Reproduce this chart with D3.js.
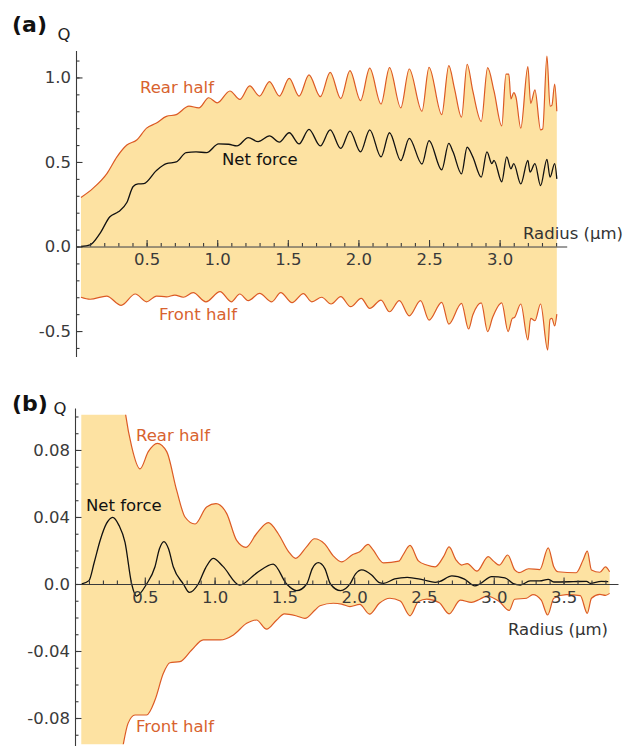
<!DOCTYPE html>
<html>
<head>
<meta charset="utf-8">
<script src="https://cdn.jsdelivr.net/npm/d3@7"></script>
<style>
  body { margin: 0; background: #fff; }
  svg { display: block; font-family: "DejaVu Sans", sans-serif; }
  .axis path, .axis line { stroke: #3a3a3a; stroke-width: 1.1; }
  .axis text { fill: #3a3a3a; font-size: 16.5px; font-family: "DejaVu Sans", sans-serif; }
  .lbl { font-size: 16.5px; }
</style>
</head>
<body>
<div id="chart"></div>
<script>
// panel (a): radius (um) vs Q
const rearA = [[0.035,0.29],[0.12,0.344],[0.22,0.433],[0.29,0.53],[0.36,0.60],[0.43,0.63],[0.50,0.70],[0.57,0.73],[0.64,0.77],[0.71,0.78],[0.80,0.83],[0.87,0.82],[0.94,0.88],[1.00,0.85],[1.09,0.92],[1.16,0.87],[1.23,0.95],[1.30,0.89],[1.37,0.975],[1.44,0.89],[1.51,0.995],[1.58,0.89],[1.65,1.015],[1.73,0.886],[1.80,1.03],[1.875,0.875],[1.94,1.04],[2.015,0.863],[2.08,1.055],[2.16,0.843],[2.22,1.058],[2.30,0.82],[2.36,1.05],[2.45,0.80],[2.50,1.06],[2.59,0.78],[2.64,1.07],[2.68,0.936],[2.73,0.765],[2.77,1.078],[2.81,0.92],[2.87,0.74],[2.915,1.058],[2.96,0.92],[3.015,0.713],[3.045,1.02],[3.065,1.02],[3.08,0.873],[3.10,0.91],[3.115,0.886],[3.15,0.70],[3.20,1.064],[3.22,0.847],[3.25,0.926],[3.29,0.69],[3.305,0.695],[3.335,1.127],[3.357,0.83],[3.37,0.835],[3.39,0.96],[3.405,0.80]];
const netA = [[0.035,0],[0.1,0.01],[0.17,0.078],[0.24,0.176],[0.30,0.205],[0.36,0.26],[0.405,0.355],[0.44,0.37],[0.48,0.372],[0.57,0.45],[0.64,0.49],[0.71,0.50],[0.78,0.555],[0.85,0.56],[0.925,0.555],[1.01,0.607],[1.08,0.605],[1.14,0.595],[1.22,0.644],[1.29,0.62],[1.37,0.654],[1.44,0.617],[1.51,0.673],[1.58,0.607],[1.65,0.693],[1.73,0.595],[1.80,0.69],[1.875,0.58],[1.94,0.683],[2.015,0.56],[2.08,0.69],[2.16,0.53],[2.22,0.673],[2.30,0.508],[2.36,0.64],[2.45,0.488],[2.50,0.626],[2.59,0.453],[2.64,0.61],[2.67,0.56],[2.73,0.43],[2.77,0.587],[2.81,0.53],[2.87,0.41],[2.91,0.56],[2.945,0.49],[2.96,0.51],[3.015,0.383],[3.05,0.53],[3.08,0.46],[3.10,0.49],[3.15,0.37],[3.20,0.51],[3.215,0.44],[3.25,0.49],[3.29,0.36],[3.335,0.516],[3.357,0.41],[3.39,0.49],[3.405,0.40]];
const frontA = [[0.035,-0.30],[0.10,-0.312],[0.217,-0.293],[0.32,-0.348],[0.42,-0.281],[0.50,-0.327],[0.57,-0.293],[0.64,-0.298],[0.70,-0.287],[0.76,-0.30],[0.83,-0.273],[0.92,-0.327],[1.02,-0.267],[1.10,-0.327],[1.16,-0.281],[1.22,-0.32],[1.30,-0.277],[1.386,-0.327],[1.45,-0.273],[1.53,-0.332],[1.61,-0.279],[1.67,-0.327],[1.74,-0.30],[1.806,-0.34],[1.875,-0.297],[1.945,-0.356],[2.02,-0.307],[2.08,-0.366],[2.16,-0.317],[2.22,-0.386],[2.29,-0.32],[2.36,-0.41],[2.44,-0.32],[2.50,-0.435],[2.59,-0.33],[2.64,-0.459],[2.73,-0.336],[2.78,-0.488],[2.81,-0.405],[2.87,-0.333],[2.915,-0.504],[2.95,-0.42],[3.015,-0.333],[3.06,-0.504],[3.09,-0.425],[3.105,-0.42],[3.15,-0.34],[3.20,-0.553],[3.22,-0.425],[3.25,-0.439],[3.29,-0.34],[3.34,-0.612],[3.357,-0.431],[3.37,-0.425],[3.39,-0.47],[3.405,-0.40]];

// panel (b)
const rearB = [[0.045,0.5],[0.2,0.25],[0.30,0.15],[0.363,0.101],[0.406,0.082],[0.466,0.0687],[0.525,0.079],[0.59,0.084],[0.657,0.079],[0.728,0.056],[0.788,0.040],[0.86,0.0358],[0.943,0.046],[1.01,0.048],[1.087,0.042],[1.158,0.026],[1.225,0.0219],[1.30,0.030],[1.385,0.0366],[1.456,0.030],[1.53,0.0193],[1.58,0.0153],[1.66,0.0223],[1.715,0.027],[1.79,0.0238],[1.85,0.0168],[1.91,0.0132],[1.99,0.0176],[2.04,0.0193],[2.10,0.0236],[2.13,0.021],[2.21,0.0126],[2.32,0.0136],[2.35,0.0173],[2.40,0.023],[2.46,0.0138],[2.52,0.0113],[2.58,0.0102],[2.64,0.0163],[2.68,0.0221],[2.73,0.0143],[2.77,0.0113],[2.81,0.0122],[2.88,0.0077],[2.96,0.0163],[3.00,0.0135],[3.04,0.0113],[3.10,0.0173],[3.15,0.0084],[3.18,0.0068],[3.25,0.0091],[3.33,0.0086],[3.39,0.0216],[3.43,0.0103],[3.46,0.0073],[3.59,0.0067],[3.64,0.0143],[3.67,0.0196],[3.70,0.0084],[3.76,0.007],[3.80,0.0102],[3.83,0.0073]];
const netB = [[0.048,0],[0.10,0.002],[0.138,0.013],[0.18,0.026],[0.225,0.036],[0.27,0.0398],[0.315,0.035],[0.358,0.025],[0.406,0],[0.44,-0.0072],[0.513,0],[0.573,0.0103],[0.605,0.021],[0.637,0.0253],[0.67,0.021],[0.704,0.0103],[0.776,0],[0.819,-0.005],[0.883,0],[0.935,0.0095],[0.99,0.0153],[1.06,0.0105],[1.18,-0.0007],[1.30,0.0065],[1.42,0.0119],[1.516,0],[1.588,-0.004],[1.66,0],[1.70,0.0092],[1.743,0.0127],[1.79,0.0092],[1.83,0],[1.903,-0.004],[1.97,0],[2.01,0.006],[2.054,0.0084],[2.125,0.0054],[2.18,0.0008],[2.21,0.0004],[2.29,0.003],[2.38,0.004],[2.495,0.0024],[2.58,0.001],[2.61,0.0014],[2.70,0.0048],[2.79,0.0029],[2.865,-0.0011],[2.90,0],[2.985,0.0044],[3.08,0.0037],[3.14,0.0002],[3.19,-0.0006],[3.26,0.0018],[3.33,0.0018],[3.39,0.0028],[3.43,0.0012],[3.57,0.0014],[3.665,0.0016],[3.69,0.0004],[3.77,0.0016],[3.82,0.0014]];
const frontB = [[0.045,-0.4],[0.25,-0.16],[0.346,-0.0957],[0.38,-0.0832],[0.43,-0.0782],[0.513,-0.0782],[0.573,-0.0693],[0.633,-0.0533],[0.68,-0.047],[0.752,-0.0464],[0.836,-0.0394],[0.919,-0.0334],[1.04,-0.0334],[1.135,-0.0304],[1.23,-0.0235],[1.30,-0.0215],[1.373,-0.027],[1.445,-0.0215],[1.50,-0.0179],[1.588,-0.0191],[1.647,-0.0205],[1.72,-0.0155],[1.755,-0.013],[1.85,-0.0115],[1.91,-0.012],[1.97,-0.0135],[2.04,-0.0122],[2.11,-0.018],[2.18,-0.0115],[2.256,-0.0085],[2.33,-0.0102],[2.40,-0.019],[2.46,-0.0105],[2.52,-0.009],[2.61,-0.0112],[2.68,-0.0178],[2.76,-0.0096],[2.84,-0.011],[2.90,-0.0091],[2.95,-0.0072],[3.04,-0.0105],[3.11,-0.0158],[3.15,-0.0091],[3.235,-0.0085],[3.28,-0.0063],[3.34,-0.0096],[3.386,-0.0185],[3.43,-0.0085],[3.52,-0.0064],[3.62,-0.007],[3.67,-0.0175],[3.70,-0.0085],[3.76,-0.0062],[3.80,-0.0068],[3.83,-0.0056]];

const xTicksA = [0.5, 1.0, 1.5, 2.0, 2.5, 3.0];
const yTicksA = [-0.5, 0.0, 0.5, 1.0];
const xTicksB = [0.5, 1.0, 1.5, 2.0, 2.5, 3.0, 3.5];
const yTicksB = [-0.08, -0.04, 0.0, 0.04, 0.08];

const width = 636, height = 746;
const fillColor = "#fde2a2", orange = "#dc5a24", textOrange = "#d8632f";

const svg = d3.select("#chart").append("svg")
    .attr("width", width)
    .attr("height", height);

function range(a, b, step) {
    const out = [];
    for (let v = a; v <= b + 1e-9; v += step) out.push(+v.toFixed(4));
    return out;
}

function panel(opt) {
    const x = d3.scaleLinear().domain(opt.xDomain).range(opt.xRange);
    const y = d3.scaleLinear().domain(opt.yDomain).range(opt.yRange);
    const g = svg.append("g");

    const clipId = "clip-" + opt.name;
    svg.append("clipPath").attr("id", clipId)
        .append("rect")
        .attr("x", x(0)).attr("width", x(opt.xDomain[1]) - x(0))
        .attr("y", y(opt.clip[1])).attr("height", y(opt.clip[0]) - y(opt.clip[1]));

    const plot = g.append("g").attr("clip-path", `url(#${clipId})`);

    const area = d3.area()
        .x(d => x(d[0])).y0(y(0)).y1(d => y(d[1]))
        .curve(d3.curveMonotoneX);
    const line = d3.line()
        .x(d => x(d[0])).y(d => y(d[1]))
        .curve(d3.curveMonotoneX);

    plot.append("path").datum(opt.rear).attr("d", area).attr("fill", fillColor);
    plot.append("path").datum(opt.front).attr("d", area).attr("fill", fillColor);
    plot.append("path").datum(opt.rear).attr("d", line)
        .attr("fill", "none").attr("stroke", orange).attr("stroke-width", 1.2);
    plot.append("path").datum(opt.front).attr("d", line)
        .attr("fill", "none").attr("stroke", orange).attr("stroke-width", 1.2);
    plot.append("path").datum(opt.net).attr("d", line)
        .attr("fill", "none").attr("stroke", "#111").attr("stroke-width", 1.3);

    // minor ticks
    g.append("g").attr("class", "axis")
        .attr("transform", `translate(0,${y(0)})`)
        .call(d3.axisBottom(x).tickValues(opt.xMinor).tickSize(-3.5).tickSizeOuter(0).tickFormat(""));
    g.append("g").attr("class", "axis")
        .attr("transform", `translate(${x(0)},0)`)
        .call(d3.axisLeft(y).tickValues(opt.yMinor).tickSize(-3.5).tickSizeOuter(0).tickFormat(""));

    // major ticks
    g.append("g").attr("class", "axis")
        .attr("transform", `translate(0,${y(0)})`)
        .call(d3.axisBottom(x).tickValues(opt.xTicks).tickSize(-6.5).tickSizeOuter(0)
            .tickPadding(7).tickFormat(d => d.toFixed(1)))
        .call(a => a.select(".domain").remove());
    g.append("g").attr("class", "axis")
        .attr("transform", `translate(${x(0)},0)`)
        .call(d3.axisLeft(y).tickValues(opt.yTicks).tickSize(-6.5).tickSizeOuter(0)
            .tickPadding(5).tickFormat(opt.yFormat))
        .call(a => a.select(".domain").remove());

    g.selectAll(".axis text").attr("fill", "#3a3a3a");

    g.append("text").attr("x", 12).attr("y", opt.tagY)
        .attr("font-size", 22).attr("font-weight", "bold").attr("fill", "#111")
        .text(opt.tag);
    g.append("text").attr("x", opt.qX).attr("y", opt.qY).attr("text-anchor", "middle")
        .attr("class", "lbl").attr("fill", "#222").text("Q");

    opt.labels.forEach(l => {
        g.append("text").attr("class", "lbl")
            .attr("x", l.x).attr("y", l.y)
            .attr("text-anchor", l.anchor || "start")
            .attr("fill", l.color).text(l.text);
    });
}

panel({
    name: "a", tag: "(a)", tagY: 32, qX: 64, qY: 40,
    xDomain: [0, 3.475], xRange: [76, 566.7],
    yDomain: [-0.65, 1.16], yRange: [356.4, 50.4],
    clip: [-0.65, 1.16],
    rear: rearA, net: netA, front: frontA,
    xTicks: xTicksA, yTicks: yTicksA,
    xMinor: range(0.1, 3.4, 0.1), yMinor: range(-0.6, 1.1, 0.1),
    yFormat: d => d.toFixed(1),
    labels: [
        { text: "Rear half", x: 140, y: 93, color: textOrange },
        { text: "Net force", x: 222, y: 165, color: "#111" },
        { text: "Front half", x: 159, y: 320, color: textOrange },
        { text: "Radius (μm)", x: 623, y: 239, anchor: "end", color: "#333" }
    ]
});

panel({
    name: "b", tag: "(b)", tagY: 411, qX: 60, qY: 414,
    xDomain: [0, 3.89], xRange: [75, 618],
    yDomain: [-0.1, 0.105], yRange: [751.5, 408.1],
    clip: [-0.0957, 0.101],
    rear: rearB, net: netB, front: frontB,
    xTicks: xTicksB, yTicks: yTicksB,
    xMinor: range(0.1, 3.8, 0.1), yMinor: range(-0.09, 0.1, 0.01),
    yFormat: d => d === 0 ? "0.0" : d.toFixed(2),
    labels: [
        { text: "Rear half", x: 136, y: 441, color: textOrange },
        { text: "Net force", x: 86, y: 511, color: "#111" },
        { text: "Front half", x: 136, y: 732, color: textOrange },
        { text: "Radius (μm)", x: 608, y: 635, anchor: "end", color: "#333" }
    ]
});
</script>
</body>
</html>
